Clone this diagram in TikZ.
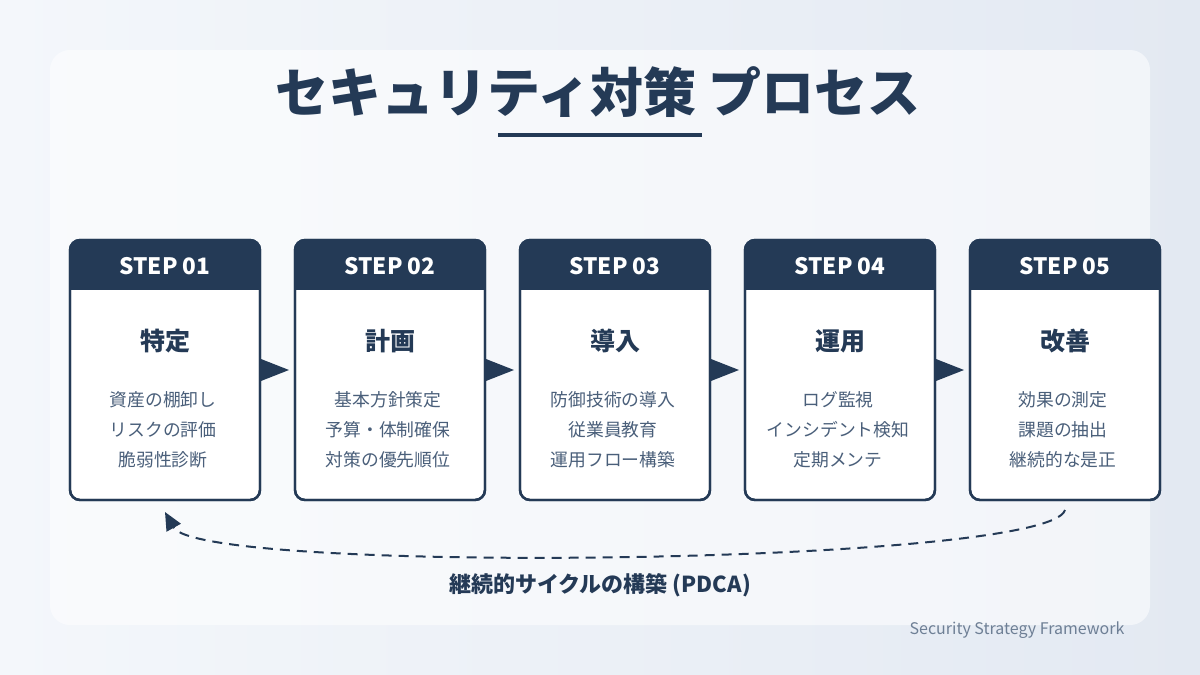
\documentclass[tikz,border=0pt]{standalone}
\usepackage{fontspec}
\setmainfont{Noto Sans CJK JP}
\usetikzlibrary{arrows.meta,positioning}
\definecolor{navy}{HTML}{243A56}
\definecolor{txt}{HTML}{4A5F7A}
\definecolor{bgA}{HTML}{F4F7FB}
\definecolor{bgB}{HTML}{E3E9F2}
\tikzset{
  card/.style={draw=navy, line width=1.2pt, fill=white, rounded corners=5pt, minimum width=95pt, minimum height=130pt, inner sep=0pt},
  head/.style={fill=navy, text=white, font=\fontsize{11.3}{12}\selectfont\bfseries},
  flow/.style={fill=navy, draw=none}
}
\begin{document}
\begin{tikzpicture}[x=0.5pt,y=-0.5pt]
        \useasboundingbox (0,0) rectangle (1200,675);
        \shade[left color=bgA, right color=bgB] (0,0) rectangle (1200,675);
        \fill[white, opacity=0.55, rounded corners=10pt] (50,50) rectangle (1150,625);
        % title
        \node[font=\fontsize{26.5}{30}\selectfont\bfseries, text=navy] (title) at (598,92) {セキュリティ対策 プロセス};
        \draw[navy, line width=1.6pt] (498,135) -- (702,135);
        % steps
        \foreach \i/\x/\name/\a/\b/\c in {1/165/特定/資産の棚卸し/リスクの評価/脆弱性診断,
                                        2/390/計画/基本方針策定/予算・体制確保/対策の優先順位,
                                        3/615/導入/防御技術の導入/従業員教育/運用フロー構築,
                                        4/840/運用/ログ監視/インシデント検知/定期メンテ,
                                        5/1065/改善/効果の測定/課題の抽出/継続的な是正} {
          \node[card] (s\i) at (\x,370) {};
          \begin{scope}
            \clip[rounded corners=5pt] (\x-95,240) rectangle (\x+95,500);
            \fill[navy] (\x-95,240) rectangle (\x+95,290);
          \end{scope}
          \draw[navy, line width=1.2pt, rounded corners=5pt] (\x-95,240) rectangle (\x+95,500);
          \node[head] (h\i) at (\x,266) {STEP 0\i};
          \node[font=\fontsize{12.5}{14}\selectfont\bfseries, text=navy] (t\i) at (\x,341) {\name};
          \node[font=\fontsize{8.9}{15}\selectfont, text=txt, align=center] (d\i) at (\x-2,430) {\a\\\b\\\c};
        }
        % arrows between steps
        \foreach \i/\x in {1/261,2/486,3/711,4/936} {
          \fill[flow] (\x,359) -- (\x+28,370) -- (\x,381) -- cycle;
        }
        % cycle
        \coordinate (cs) at (1065,510);
        \coordinate (ce) at (165,512);
        \draw[navy, line width=1pt, dash pattern=on 5pt off 3.5pt, -{Triangle[length=9pt,width=8pt]}]
          (cs) .. controls (1050,565) and (200,575) .. (ce);
        \node[font=\fontsize{11}{12}\selectfont\bfseries, text=navy] (cyc) at (600,585) {継続的サイクルの構築 (PDCA)};
        \node[font=\fontsize{8}{10}\selectfont, text=txt!80] (foot) at (1017,630) {Security Strategy Framework};
\end{tikzpicture}
\end{document}
